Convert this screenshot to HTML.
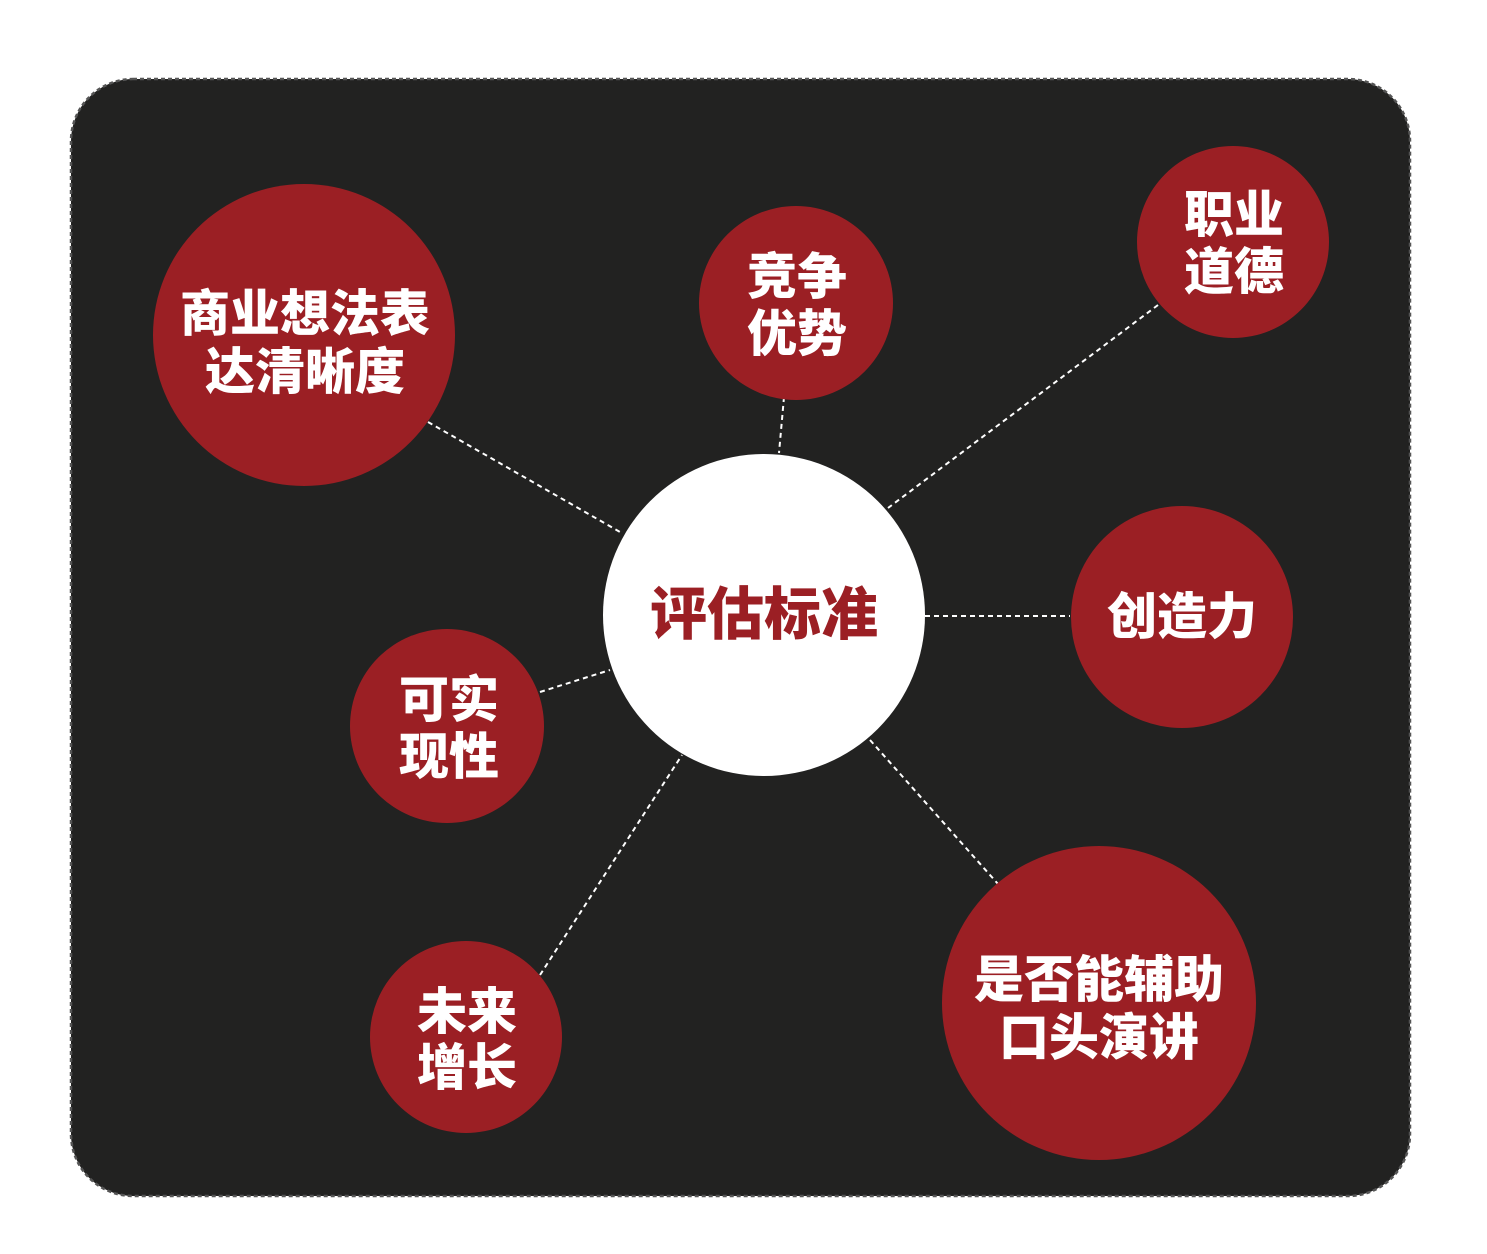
<!DOCTYPE html>
<html><head><meta charset="utf-8"><style>
html,body{margin:0;padding:0;background:#fff;}
svg{display:block;}
text{font-family:"Liberation Sans","Noto Sans CJK SC",sans-serif;font-weight:900;fill:#fff;text-anchor:middle;dominant-baseline:central;}
</style></head><body>
<svg width="1487" height="1254" viewBox="0 0 1487 1254" xmlns="http://www.w3.org/2000/svg">
<rect x="71" y="79" width="1339" height="1117" rx="62" ry="62" fill="#222221" stroke="#555" stroke-width="2.5" stroke-dasharray="4 3"/>
<g stroke="#fff" stroke-width="2" stroke-dasharray="5 4" fill="none">
<line x1="428" y1="422" x2="620" y2="532"/>
<line x1="784" y1="397" x2="779" y2="453"/>
<line x1="1158" y1="305" x2="888" y2="508"/>
<line x1="925" y1="616" x2="1070" y2="616"/>
<line x1="540" y1="692" x2="610" y2="670"/>
<line x1="540" y1="975" x2="682" y2="755"/>
<line x1="870" y1="740" x2="998" y2="884"/>
</g>
<g fill="#9b1f24">
<circle cx="304" cy="335" r="151"/>
<circle cx="796" cy="303" r="97"/>
<circle cx="1233" cy="242" r="96"/>
<circle cx="1182" cy="617" r="111"/>
<circle cx="447" cy="726" r="97"/>
<circle cx="466" cy="1037" r="96"/>
<circle cx="1099" cy="1003" r="157"/>
</g>
<circle cx="764" cy="615" r="161" fill="#fff"/>
<text x="764" y="615" font-size="57" style="fill:#9b1f24">评估标准</text>
<g font-size="50">
<text x="305" y="314">商业想法表</text>
<text x="305" y="372">达清晰度</text>
<text x="797" y="277">竞争</text>
<text x="797" y="334">优势</text>
<text x="1234" y="215">职业</text>
<text x="1234" y="272">道德</text>
<text x="1182" y="617">创造力</text>
<text x="449" y="700">可实</text>
<text x="449" y="757">现性</text>
<text x="467" y="1012">未来</text>
<text x="467" y="1068">增长</text>
<text x="1099" y="980">是否能辅助</text>
<text x="1099" y="1038">口头演讲</text>
</g>
</svg>
</body></html>
